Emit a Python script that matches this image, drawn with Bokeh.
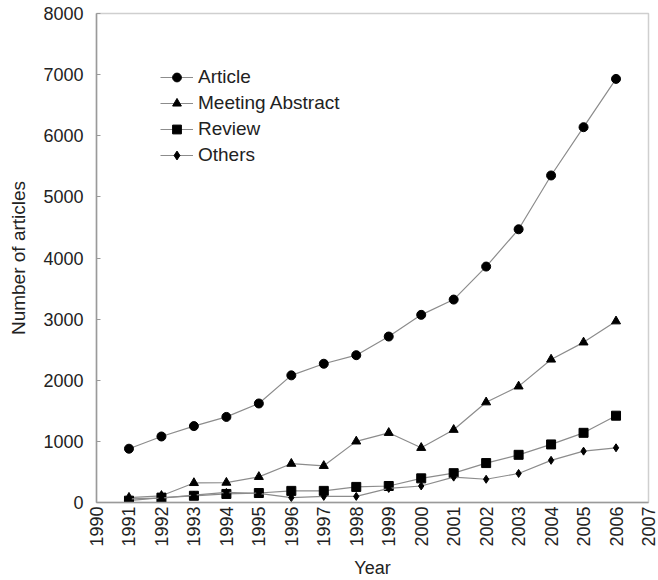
from bokeh.plotting import figure
from bokeh.models import FixedTicker, Range1d, Legend, LegendItem
from bokeh.embed import file_html
from bokeh.resources import INLINE
import math

years = [1991, 1992, 1993, 1994, 1995, 1996, 1997, 1998, 1999, 2000, 2001, 2002, 2003, 2004, 2005, 2006]
article = [880, 1080, 1250, 1400, 1620, 2080, 2270, 2410, 2715, 3070, 3320, 3860, 4470, 5350, 6140, 6930]
meeting = [80, 110, 320, 325, 420, 635, 600, 1000, 1140, 895, 1190, 1640, 1900, 2340, 2620, 2965]
review = [30, 80, 110, 140, 155, 190, 190, 255, 270, 395, 480, 645, 780, 950, 1140, 1420]
others = [60, 70, 120, 165, 150, 80, 100, 100, 230, 270, 415, 380, 475, 690, 840, 895]
x_ticks = list(range(1990, 2008))
y_ticks = list(range(0, 8001, 1000))

FONT = "Liberation Sans"
TXT = "#222222"
LINE = "#8c8c8c"

p = figure(width=658, height=580, output_backend="svg", toolbar_location=None,
           x_range=Range1d(1990, 2007), y_range=Range1d(0, 8000),
           min_border_left=96, min_border_right=10, min_border_top=13, min_border_bottom=60)
p.grid.visible = False
p.outline_line_color = "#cfcfcf"
p.outline_line_width = 1.5

p.xaxis.ticker = FixedTicker(ticks=x_ticks)
p.yaxis.ticker = FixedTicker(ticks=y_ticks)
p.xaxis.major_label_orientation = math.pi / 2
for ax in (p.xaxis, p.yaxis):
    ax.axis_line_color = "#9a9a9a"
    ax.axis_line_width = 1.5
    ax.major_tick_line_color = "#9a9a9a"
    ax.major_tick_in = 4
    ax.major_tick_out = 0
    ax.minor_tick_line_color = None
    ax.major_label_text_font = FONT
    ax.major_label_text_font_size = "18px"
    ax.major_label_text_color = TXT
    ax.axis_label_text_font = FONT
    ax.axis_label_text_font_style = "normal"
    ax.axis_label_text_color = TXT
p.xaxis.axis_label_text_font_size = "18px"
p.yaxis.axis_label_text_font_size = "19px"
p.xaxis.major_tick_line_color = None
p.xaxis.axis_label = "Year"
p.yaxis.axis_label = "Number of articles"
p.xaxis.major_label_standoff = 4
p.xaxis.axis_label_standoff = 8
p.yaxis.major_label_standoff = 13
p.yaxis.axis_label_standoff = 11

items = []
specs = [("Article", article, "circle", 9),
         ("Meeting Abstract", meeting, "triangle", 9),
         ("Review", review, "square", 9),
         ("Others", others, "diamond", 8)]
for name, vals, marker, size in specs:
    l = p.line(years, vals, line_color=LINE, line_width=1.2)
    s = p.scatter(years, vals, marker=marker, size=size, fill_color="black", line_color="black")
    items.append(LegendItem(label=name, renderers=[l, s]))

legend = Legend(items=items, location=(64, 336), padding=0, margin=0, spacing=4,
                glyph_width=33, glyph_height=22, label_height=22, label_standoff=5,
                label_text_font=FONT, label_text_font_size="19px", label_text_color=TXT,
                border_line_color=None, background_fill_alpha=0)
p.add_layout(legend, "center")

open("out.html", "w").write(file_html(p, INLINE))
